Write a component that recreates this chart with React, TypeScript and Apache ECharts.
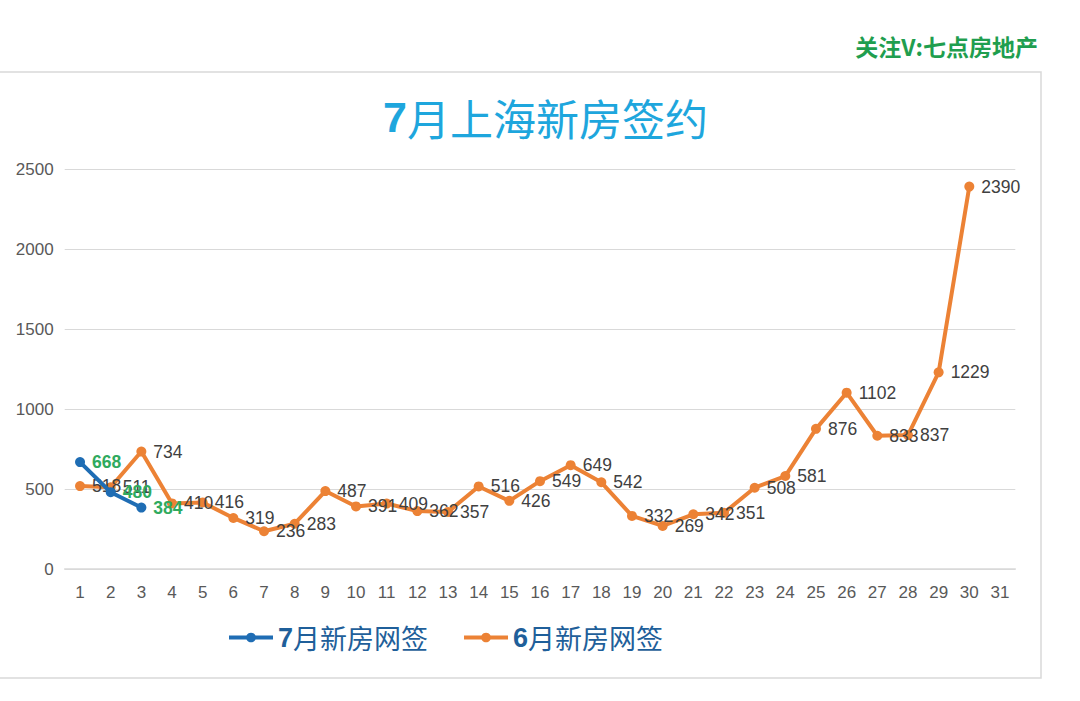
import React, { useEffect, useRef } from "react";
import * as echarts from "echarts";

const days = Array.from({ length: 31 }, (_, i) => String(i + 1));
const julyValues: (number | null)[] = [668, 480, 384];
const juneValues: (number | null)[] = [
  518, 511, 734, 410, 416, 319, 236, 283, 487, 391, 409, 362, 357, 516, 426,
  549, 649, 542, 332, 269, 342, 351, 508, 581, 876, 1102, 833, 837, 1229, 2390, null,
];
const julyName = "7月新房网签";
const juneName = "6月新房网签";
const titleHead = "7";
const titleTail = "月上海新房签约";
const watermark = "关注V:七点房地产";

export default function App() {
  const ref = useRef<HTMLDivElement>(null);
  useEffect(() => {
    document.body.style.margin = "0";
    const chart = echarts.init(ref.current!, null, { renderer: "svg" });
    const font = "Arial, 'Liberation Sans', 'Noto Sans CJK SC', sans-serif";
    const cjk = "'Noto Sans CJK SC', sans-serif";
    chart.setOption({
      animation: false,
      backgroundColor: "#ffffff",
      textStyle: { fontFamily: font },
      graphic: [
        {
          type: "rect",
          shape: { x: -5, y: 72, width: 1046, height: 606 },
          style: { fill: "none", stroke: "#d9d9d9", lineWidth: 1.5 },
          silent: true,
        },
        {
          type: "text",
          right: 42,
          top: 34,
          style: {
            text: watermark,
            fill: "#1f9e4f",
            font: `bold 23px ${cjk}`,
          },
        },
        {
          type: "text",
          left: 383,
          top: 95,
          style: {
            text: `{a|${titleHead}}{b|${titleTail}}`,
            rich: {
              a: { fontSize: 43, fontWeight: "bold", fill: "#1ea6dd", color: "#1ea6dd", fontFamily: font },
              b: { fontSize: 43, fill: "#1ea6dd", color: "#1ea6dd", fontFamily: cjk },
            },
          },
        },
      ],
      legend: {
        left: 222,
        top: 619,
        itemWidth: 44,
        itemHeight: 12,
        itemGap: 34,
        data: [julyName, juneName],
        lineStyle: { width: 4 },
        textStyle: {
          fontSize: 27,
          color: "#1f5f9a",
          fontFamily: cjk,
          rich: {
            b: { fontSize: 27, fontWeight: "bold", color: "#1f5f9a", fontFamily: font },
            n: { fontSize: 27, color: "#1f5f9a", fontFamily: cjk },
          },
        },
        formatter: (name: string) => `{b|${name.slice(0, 1)}}{n|${name.slice(1)}}`,
      },
      grid: { left: 64.7, right: 64.7, top: 169, bottom: 132 },
      xAxis: {
        type: "category",
        data: days,
        boundaryGap: true,
        axisLine: { show: true, lineStyle: { color: "#d9d9d9", width: 1.5 } },
        axisTick: { show: false },
        axisLabel: { color: "#595959", fontSize: 17, margin: 15 },
      },
      yAxis: {
        type: "value",
        min: 0,
        max: 2500,
        interval: 500,
        axisLine: { show: false },
        axisTick: { show: false },
        axisLabel: { color: "#595959", fontSize: 17, margin: 11, formatter: (v: number) => String(v) },
        splitLine: { lineStyle: { color: "#d9d9d9", width: 1.2 } },
      },
      series: [
        {
          name: julyName,
          type: "line",
          data: julyValues,
          z: 3,
          symbol: "circle",
          symbolSize: 10,
          itemStyle: { color: "#1f6db4" },
          lineStyle: { color: "#1f6db4", width: 4 },
          label: {
            show: true,
            position: "right",
            distance: 7,
            color: "#2faa5e",
            fontSize: 17.5,
            fontWeight: "bold",
          },
        },
        {
          name: juneName,
          type: "line",
          data: juneValues,
          z: 2,
          symbol: "circle",
          symbolSize: 10,
          itemStyle: { color: "#ec8235" },
          lineStyle: { color: "#ec8235", width: 4 },
          label: {
            show: true,
            position: "right",
            distance: 7,
            color: "#404040",
            fontSize: 17.5,
          },
        },
      ],
    });
    return () => chart.dispose();
  }, []);
  return (
    <div
      ref={ref}
      style={{ position: "absolute", left: 0, top: 0, width: 1080, height: 701 }}
    />
  );
}
